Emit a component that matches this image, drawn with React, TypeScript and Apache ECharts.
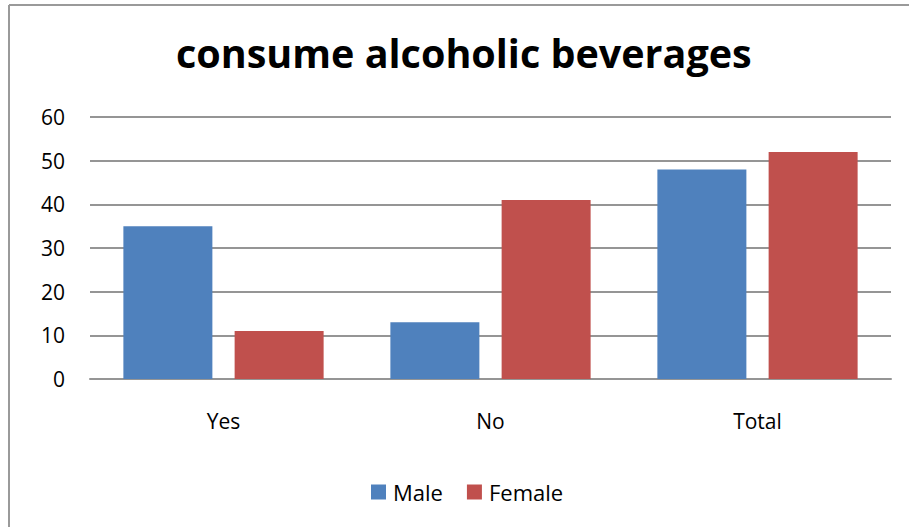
import React, { useEffect, useRef } from "react";
import * as echarts from "echarts";

const categories = ["Yes", "No", "Total"];
const maleValues = [35, 13, 48];
const femaleValues = [11, 41, 52];
const seriesNames = ["Male", "Female"];
const titleText = "consume alcoholic beverages";

export default function App() {
  const ref = useRef<HTMLDivElement>(null);
  useEffect(() => {
    if (!ref.current) return;
    const chart = echarts.init(ref.current, null, { renderer: "svg" });
    const font = "'Open Sans', 'Noto Sans', sans-serif";
    chart.setOption({
      animation: false,
      backgroundColor: "#ffffff",
      title: {
        text: titleText,
        left: 176,
        top: 33,
        padding: 0,
        textStyle: { fontFamily: font, fontWeight: "bold", fontSize: 39.5, color: "#000000" },
      },
      legend: {
        data: seriesNames,
        left: 371,
        top: 481,
        padding: 0,
        itemWidth: 15,
        itemHeight: 15,
        itemGap: 24,
        icon: "rect",
        textStyle: { fontFamily: font, fontSize: 22, color: "#000000", padding: [0, 0, 0, 2] },
      },
      grid: { left: 90, right: 18, top: 117, bottom: 148 },
      xAxis: {
        type: "category",
        data: categories,
        axisLine: { lineStyle: { color: "#959595", width: 2 } },
        axisTick: { show: false },
        axisLabel: { fontFamily: font, fontSize: 21, color: "#000000", margin: 31 },
      },
      yAxis: {
        type: "value",
        min: 0,
        max: 60,
        interval: 10,
        axisLine: { show: false },
        axisTick: { show: false },
        splitLine: { lineStyle: { color: "#959595", width: 2 } },
        axisLabel: { fontFamily: font, fontSize: 21, color: "#000000", margin: 25 },
      },
      series: [
        {
          name: seriesNames[0],
          type: "bar",
          data: maleValues,
          itemStyle: { color: "#4F81BD" },
          barGap: "25%",
          barCategoryGap: "25%",
        },
        {
          name: seriesNames[1],
          type: "bar",
          data: femaleValues,
          itemStyle: { color: "#C0504D" },
        },
      ],
      graphic: [
        { type: "line", shape: { x1: 9, y1: 5, x2: 909, y2: 5 }, style: { stroke: "#9a9a9a", lineWidth: 2 } },
        { type: "line", shape: { x1: 9, y1: 5, x2: 9, y2: 527 }, style: { stroke: "#9a9a9a", lineWidth: 2 } },
      ],
    });
    return () => chart.dispose();
  }, []);
  return (
    <div
      ref={ref}
      style={{ position: "fixed", left: 0, top: 0, width: 909, height: 527 }}
    />
  );
}
